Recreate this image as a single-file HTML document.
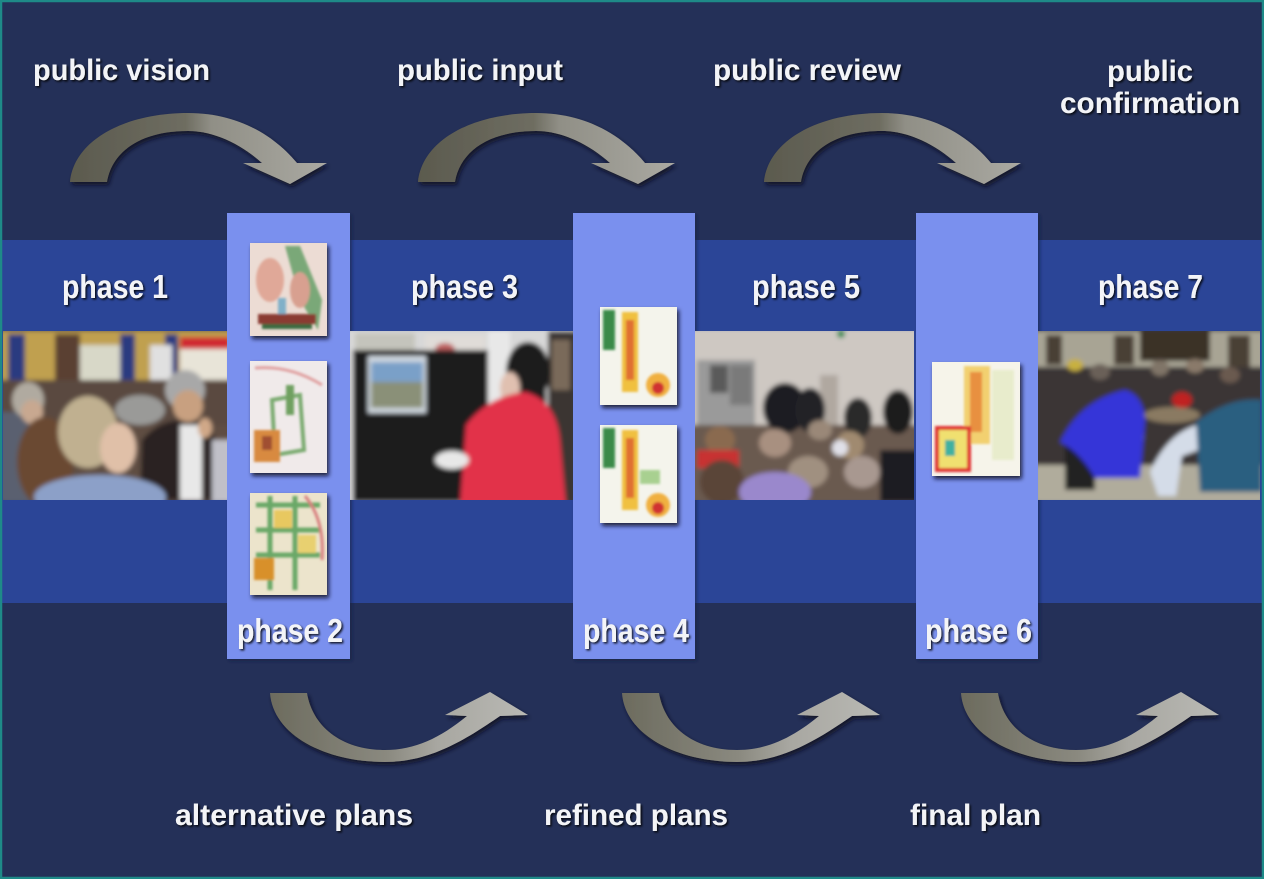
<!DOCTYPE html>
<html><head><meta charset="utf-8"><style>
html,body{margin:0;padding:0;background:#243058;}
svg{display:block;}
text{font-family:"Liberation Sans",Arial,sans-serif;font-weight:bold;fill:#f3f4f7;}
</style></head><body>
<svg width="1264" height="879" viewBox="0 0 1264 879" xmlns="http://www.w3.org/2000/svg">
<defs>
  <filter id="ds" x="-20%" y="-20%" width="140%" height="150%"><feDropShadow dx="2" dy="3" stdDeviation="2" flood-color="#0a0f22" flood-opacity="0.85"/></filter>
  <filter id="ts" x="-10%" y="-30%" width="120%" height="160%"><feDropShadow dx="1.5" dy="1.5" stdDeviation="1" flood-color="#000" flood-opacity="0.85"/></filter>
  <filter id="cs" x="-10%" y="-5%" width="120%" height="110%"><feDropShadow dx="2" dy="2" stdDeviation="1.5" flood-color="#101a40" flood-opacity="0.6"/></filter>
  <filter id="bl"><feGaussianBlur stdDeviation="2.4"/></filter>
  <filter id="bl1"><feGaussianBlur stdDeviation="1.2"/></filter>
  <linearGradient id="gt" x1="0" y1="0" x2="1" y2="0">
    <stop offset="0" stop-color="#5b5a4e"/><stop offset="0.45" stop-color="#6e6d61"/>
    <stop offset="0.55" stop-color="#908f86"/><stop offset="1" stop-color="#aaa9a2"/>
  </linearGradient>
  <linearGradient id="gb" x1="0" y1="0" x2="1" y2="0">
    <stop offset="0" stop-color="#6c6b5e"/><stop offset="0.45" stop-color="#8a897f"/>
    <stop offset="0.65" stop-color="#a8a7a1"/><stop offset="1" stop-color="#b9b9b4"/>
  </linearGradient>
  <clipPath id="c1"><rect x="3" y="331" width="224" height="169"/></clipPath>
  <clipPath id="c3"><rect x="350" y="331" width="223" height="169"/></clipPath>
  <clipPath id="c5"><rect x="695" y="331" width="219" height="169"/></clipPath>
  <clipPath id="c7"><rect x="1038" y="331" width="222" height="169"/></clipPath>
  <path id="ta" d="M70,182 C74,140 125,113 188,113 C235,113 272,133 297,163 L327,163 L290,184 L243,163 L262,163 C242,145 215,131 188,131 C140,131 112,152 107,182 Z"/>
  <path id="ba" d="M270,693 C273,735 325,762 385,762 C430,762 465,740 500,716 L528,715 L490,692 L445,715 L467,716 C440,738 415,750 385,750 C340,750 312,725 307,693 Z"/>
</defs>

<rect x="0" y="0" width="1264" height="879" fill="#243058"/>
<rect x="0" y="240" width="1264" height="363" fill="#2b4597"/>

<g filter="url(#cs)">
  <rect x="227" y="213" width="123" height="446" fill="#7a90ee"/>
  <rect x="573" y="213" width="122" height="446" fill="#7a90ee"/>
  <rect x="916" y="213" width="122" height="446" fill="#7a90ee"/>
</g>

<!-- Photo 1 -->
<g clip-path="url(#c1)"><g filter="url(#bl)">
  <rect x="0" y="328" width="232" height="175" fill="#5e4e42"/>
  <rect x="0" y="331" width="232" height="55" fill="#c0a050"/>
  <rect x="8" y="334" width="17" height="56" fill="#2a3a80"/>
  <rect x="55" y="334" width="25" height="55" fill="#5a4030"/>
  <rect x="80" y="345" width="42" height="35" fill="#d8d8c8"/>
  <rect x="120" y="334" width="15" height="50" fill="#2a3a80"/>
  <rect x="165" y="334" width="13" height="50" fill="#2a3a80"/>
  <rect x="180" y="337" width="50" height="12" fill="#d02a30"/>
  <rect x="180" y="349" width="50" height="55" fill="#e8e4d8"/>
  <rect x="150" y="345" width="22" height="40" fill="#e0e0e0"/>
  <rect x="0" y="380" width="232" height="45" fill="#5a4a40"/>
  <ellipse cx="140" cy="410" rx="25" ry="15" fill="#9a9a98"/>
  <rect x="0" y="412" width="42" height="90" fill="#5a6070"/>
  <ellipse cx="28" cy="400" rx="16" ry="18" fill="#b0aaa0"/>
  <ellipse cx="32" cy="412" rx="11" ry="12" fill="#c8a890"/>
  <ellipse cx="45" cy="462" rx="28" ry="45" fill="#6a4830"/>
  <ellipse cx="88" cy="432" rx="30" ry="36" fill="#c0b090"/>
  <ellipse cx="118" cy="448" rx="18" ry="25" fill="#e0c0a8"/>
  <path d="M140,500 L142,440 Q160,418 190,420 Q215,425 218,450 L218,500 Z" fill="#2a2420"/>
  <rect x="180" y="425" width="22" height="75" fill="#e8e8e8"/>
  <ellipse cx="185" cy="390" rx="20" ry="20" fill="#a8a8a8"/>
  <ellipse cx="188" cy="406" rx="15" ry="16" fill="#c8a080"/>
  <ellipse cx="205" cy="428" rx="7" ry="10" fill="#d0a888"/>
  <ellipse cx="100" cy="497" rx="66" ry="22" fill="#8ca0c8"/>
  <rect x="212" y="440" width="20" height="62" fill="#c0c0c8"/>
</g></g>

<!-- Photo 3 -->
<g clip-path="url(#c3)"><g filter="url(#bl)">
  <rect x="346" y="328" width="230" height="175" fill="#d8d8d8"/>
  <rect x="355" y="333" width="60" height="28" fill="#c4c4bc"/>
  <rect x="425" y="335" width="60" height="63" fill="#e0dcd8"/>
  <ellipse cx="445" cy="350" rx="10" ry="7" fill="#c06060"/>
  <ellipse cx="455" cy="372" rx="8" ry="12" fill="#6a9a60"/>
  <rect x="440" y="384" width="35" height="8" fill="#b05050"/>
  <rect x="353" y="350" width="135" height="152" fill="#1c1c1c"/>
  <rect x="368" y="356" width="58" height="57" fill="#d0d8e0"/>
  <rect x="371" y="362" width="52" height="20" fill="#7aa0c8"/>
  <rect x="371" y="382" width="52" height="26" fill="#8a9078"/>
  <rect x="488" y="331" width="22" height="172" fill="#e8e8e8"/>
  <rect x="548" y="331" width="28" height="172" fill="#3a3430"/>
  <rect x="552" y="340" width="18" height="50" fill="#7a6a5a"/>
  <ellipse cx="528" cy="372" rx="22" ry="30" fill="#1a1a1a"/>
  <rect x="532" y="390" width="14" height="42" fill="#1a1a1a"/>
  <ellipse cx="510" cy="388" rx="10" ry="16" fill="#e0c0b0"/>
  <path d="M460,505 L466,425 Q488,396 525,392 Q556,400 560,440 L566,505 Z" fill="#e23048"/>
  <ellipse cx="452" cy="460" rx="17" ry="9" fill="#e8e8e8"/>
</g></g>

<!-- Photo 5 -->
<g clip-path="url(#c5)"><g filter="url(#bl)">
  <rect x="690" y="328" width="230" height="175" fill="#cec8c2"/>
  <rect x="697" y="360" width="58" height="65" fill="#9a9a9a"/>
  <rect x="710" y="365" width="18" height="28" fill="#5a5a5a"/>
  <rect x="730" y="365" width="22" height="40" fill="#7a7a7a"/>
  <rect x="820" y="375" width="18" height="50" fill="#b0a8a0"/>
  <circle cx="841" cy="334" r="4" fill="#1a8a4a"/>
  <rect x="690" y="425" width="230" height="78" fill="#6a5a50"/>
  <ellipse cx="785" cy="408" rx="22" ry="25" fill="#1c1c24"/>
  <ellipse cx="810" cy="410" rx="15" ry="22" fill="#202028"/>
  <ellipse cx="858" cy="418" rx="14" ry="20" fill="#2a2a2a"/>
  <ellipse cx="898" cy="412" rx="15" ry="22" fill="#1c1c1c"/>
  <ellipse cx="720" cy="440" rx="15" ry="14" fill="#8a6a50"/>
  <ellipse cx="775" cy="443" rx="16" ry="14" fill="#a89080"/>
  <ellipse cx="820" cy="430" rx="12" ry="10" fill="#9a8878"/>
  <ellipse cx="850" cy="445" rx="14" ry="14" fill="#a08a70"/>
  <ellipse cx="808" cy="472" rx="20" ry="16" fill="#a09080"/>
  <ellipse cx="862" cy="472" rx="18" ry="16" fill="#a89890"/>
  <rect x="697" y="450" width="42" height="18" fill="#c83030"/>
  <ellipse cx="722" cy="482" rx="22" ry="22" fill="#5a4438"/>
  <ellipse cx="775" cy="492" rx="36" ry="20" fill="#9a88cc"/>
  <ellipse cx="840" cy="448" rx="8" ry="8" fill="#e0e0e8"/>
  <rect x="880" y="450" width="40" height="52" fill="#1e1e22"/>
</g></g>

<!-- Photo 7 -->
<g clip-path="url(#c7)"><g filter="url(#bl)">
  <rect x="1034" y="328" width="230" height="175" fill="#3a3634"/>
  <rect x="1034" y="331" width="230" height="36" fill="#a8a494"/>
  <rect x="1140" y="331" width="70" height="30" fill="#3a3228"/>
  <rect x="1046" y="335" width="16" height="30" fill="#4a4034"/>
  <rect x="1114" y="335" width="20" height="30" fill="#4a4034"/>
  <rect x="1228" y="335" width="22" height="32" fill="#4a4034"/>
  <ellipse cx="1075" cy="365" rx="8" ry="6" fill="#c8b040"/>
  <ellipse cx="1100" cy="372" rx="10" ry="8" fill="#6a6058"/>
  <ellipse cx="1160" cy="368" rx="9" ry="8" fill="#807468"/>
  <ellipse cx="1195" cy="366" rx="9" ry="7" fill="#8a7a6a"/>
  <ellipse cx="1230" cy="375" rx="10" ry="8" fill="#6a5a50"/>
  <rect x="1034" y="465" width="230" height="38" fill="#b0ac9c"/>
  <ellipse cx="1172" cy="415" rx="28" ry="8" fill="#8a7a62"/>
  <ellipse cx="1130" cy="435" rx="14" ry="20" fill="#8a8a80"/>
  <rect x="1065" y="440" width="30" height="50" fill="#222"/>
  <path d="M1060,442 Q1080,400 1125,390 Q1143,395 1145,420 L1140,478 L1095,478 Q1080,452 1060,442 Z" fill="#3434d8"/>
  <ellipse cx="1182" cy="400" rx="10" ry="8" fill="#c02020"/>
  <path d="M1150,472 Q1168,432 1200,424 L1210,446 L1182,456 L1176,496 L1158,496 Z" fill="#d4dce8"/>
  <path d="M1196,422 Q1230,396 1262,400 L1262,492 L1200,492 Z" fill="#2a5e80"/>
</g></g>

<!-- Thumbnails -->
<g filter="url(#ds)">
  <rect x="250" y="243" width="77" height="93" fill="#ecdcd4"/>
  <rect x="250" y="361" width="77" height="112" fill="#f0eaea"/>
  <rect x="250" y="493" width="77" height="102" fill="#ece4cc"/>
  <rect x="600" y="307" width="77" height="98" fill="#f4f4ec"/>
  <rect x="600" y="425" width="77" height="98" fill="#f4f4ec"/>
  <rect x="932" y="362" width="88" height="114" fill="#f6f4ea"/>
</g>
<g filter="url(#bl1)">
  <path d="M285,246 L300,246 L322,300 L318,330 L300,300 Z" fill="#7aa878"/>
  <ellipse cx="270" cy="280" rx="14" ry="22" fill="#e0a898"/>
  <ellipse cx="300" cy="290" rx="10" ry="18" fill="#d8a090"/>
  <rect x="278" y="298" width="8" height="16" fill="#80b0c8"/>
  <rect x="258" y="314" width="58" height="10" fill="#8a3a30"/>
  <rect x="262" y="324" width="50" height="5" fill="#3a6a40"/>
  <path d="M255,368 Q290,365 322,385" stroke="#e0a0a0" stroke-width="3" fill="none"/>
  <path d="M272,400 L300,395 L304,450 L275,455 Z" stroke="#7aaa70" stroke-width="4" fill="none"/>
  <rect x="286" y="385" width="8" height="30" fill="#70a060"/>
  <rect x="254" y="430" width="26" height="32" fill="#d88a40"/>
  <rect x="262" y="436" width="10" height="14" fill="#a05030"/>
  <path d="M256,505 L320,505 M256,530 L320,530 M256,555 L320,555 M270,496 L270,590 M295,496 L295,590" stroke="#6aa868" stroke-width="5" fill="none"/>
  <rect x="274" y="510" width="18" height="18" fill="#e8c860"/>
  <rect x="298" y="535" width="18" height="18" fill="#e8d070"/>
  <rect x="254" y="558" width="20" height="22" fill="#d8902a"/>
  <path d="M305,496 Q325,520 322,560" stroke="#d88080" stroke-width="3" fill="none"/>
  <rect x="603" y="310" width="12" height="40" fill="#3a8a4a"/>
  <rect x="622" y="312" width="16" height="80" fill="#f0c040"/>
  <rect x="626" y="320" width="8" height="60" fill="#e07030"/>
  <circle cx="658" cy="385" r="12" fill="#f0b040"/>
  <circle cx="658" cy="388" r="6" fill="#d03030"/>
  <rect x="603" y="428" width="12" height="40" fill="#3a8a4a"/>
  <rect x="622" y="430" width="16" height="80" fill="#f0c040"/>
  <rect x="626" y="438" width="8" height="60" fill="#e07030"/>
  <circle cx="658" cy="505" r="12" fill="#f0b040"/>
  <circle cx="658" cy="508" r="6" fill="#d03030"/>
  <rect x="640" y="470" width="20" height="14" fill="#a8d090"/>
  <rect x="964" y="366" width="26" height="78" fill="#f2d070"/>
  <rect x="970" y="372" width="12" height="60" fill="#e89040"/>
  <rect x="992" y="370" width="22" height="90" fill="#e8eccc"/>
  <rect x="937" y="428" width="32" height="42" fill="#f0e070"/>
  <rect x="937" y="428" width="32" height="42" fill="none" stroke="#e03030" stroke-width="4"/>
  <rect x="945" y="440" width="10" height="16" fill="#40b0a0"/>
</g>

<!-- arrows -->
<g filter="url(#ds)" fill="url(#gt)">
  <use href="#ta"/>
  <use href="#ta" transform="translate(348,0)"/>
  <use href="#ta" transform="translate(694,0)"/>
</g>
<g filter="url(#ds)" fill="url(#gb)">
  <use href="#ba"/>
  <use href="#ba" transform="translate(352,0)"/>
  <use href="#ba" transform="translate(691,0)"/>
</g>

<!-- text -->
<g filter="url(#ts)">
  <text x="33" y="80" font-size="30" textLength="177" lengthAdjust="spacingAndGlyphs">public vision</text>
  <text x="397" y="80" font-size="30" textLength="166" lengthAdjust="spacingAndGlyphs">public input</text>
  <text x="713" y="80" font-size="30" textLength="188" lengthAdjust="spacingAndGlyphs">public review</text>
  <text x="1107" y="81" font-size="30" textLength="86" lengthAdjust="spacingAndGlyphs">public</text>
  <text x="1060" y="113" font-size="30" textLength="180" lengthAdjust="spacingAndGlyphs">confirmation</text>

  <text x="62" y="298" font-size="33" textLength="106" lengthAdjust="spacingAndGlyphs">phase 1</text>
  <text x="411" y="298" font-size="33" textLength="107" lengthAdjust="spacingAndGlyphs">phase 3</text>
  <text x="752" y="298" font-size="33" textLength="108" lengthAdjust="spacingAndGlyphs">phase 5</text>
  <text x="1098" y="298" font-size="33" textLength="105" lengthAdjust="spacingAndGlyphs">phase 7</text>

  <text x="237" y="642" font-size="33" textLength="106" lengthAdjust="spacingAndGlyphs">phase 2</text>
  <text x="583" y="642" font-size="33" textLength="106" lengthAdjust="spacingAndGlyphs">phase 4</text>
  <text x="925" y="642" font-size="33" textLength="107" lengthAdjust="spacingAndGlyphs">phase 6</text>

  <text x="175" y="825" font-size="30" textLength="238" lengthAdjust="spacingAndGlyphs">alternative plans</text>
  <text x="544" y="825" font-size="30" textLength="184" lengthAdjust="spacingAndGlyphs">refined plans</text>
  <text x="910" y="825" font-size="30" textLength="131" lengthAdjust="spacingAndGlyphs">final plan</text>
</g>

<rect x="1" y="1" width="1262" height="877" fill="none" stroke="#1e8a88" stroke-width="2.5"/>
</svg>
</body></html>
